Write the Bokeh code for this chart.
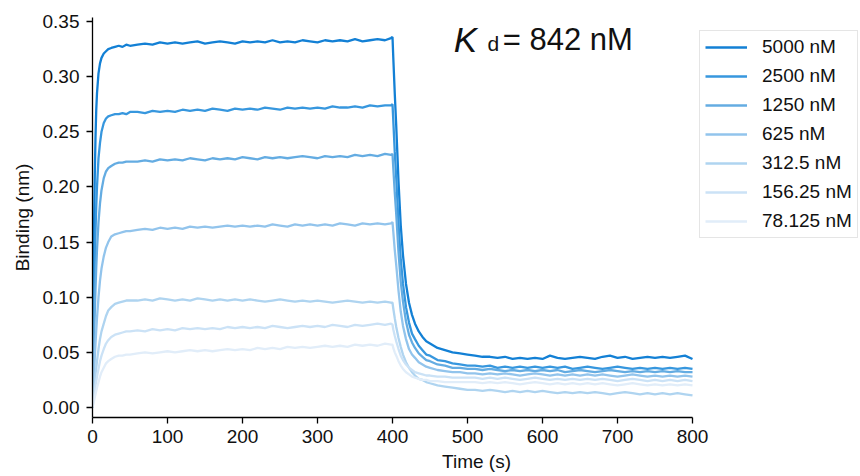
from bokeh.plotting import figure
from bokeh.models import (Range1d, FixedTicker, PrintfTickFormatter, Legend,
                          LegendItem, Label, ColumnDataSource)
from bokeh.embed import file_html
from bokeh.resources import INLINE

# ---- data ----
time_s = [0, 1, 2, 3, 4, 5, 6, 8, 10, 12, 15, 18, 21, 25, 30, 35, 40, 45, 50,
          60, 70, 80, 90, 100, 110, 120, 130, 140, 150, 160, 170, 180, 190, 200,
          210, 220, 230, 240, 250, 260, 270, 280, 290, 300, 310, 320, 330, 340,
          350, 360, 370, 380, 390, 398, 400,
          401, 403, 405, 408, 411, 414, 418, 422, 426, 430, 435, 440, 445, 450,
          460, 470, 480, 490, 500,
          510, 520, 530, 540, 550, 560, 570, 580, 590, 600, 610, 620, 630, 640,
          650, 660, 670, 680, 690, 700, 710, 720, 730, 740, 750, 760, 770, 780,
          790, 800]

conc_labels = ["5000 nM", "2500 nM", "1250 nM", "625 nM", "312.5 nM",
               "156.25 nM", "78.125 nM"]

b5000 = [0.000, 0.090, 0.160, 0.210, 0.245, 0.270, 0.285, 0.303, 0.312, 0.317, 0.321, 0.323, 0.325, 0.326, 0.327, 0.328, 0.327, 0.329, 0.328,
         0.329, 0.330, 0.329, 0.331, 0.330, 0.331, 0.330, 0.331, 0.332, 0.330, 0.331, 0.332, 0.331, 0.330, 0.332, 0.331, 0.332, 0.331, 0.333, 0.331,
         0.332, 0.331, 0.333, 0.332, 0.331, 0.333, 0.332, 0.333, 0.332, 0.334, 0.332, 0.333, 0.334, 0.333, 0.335, 0.336,
         0.318, 0.285, 0.255, 0.205, 0.165, 0.138, 0.112, 0.095, 0.084, 0.076, 0.069, 0.064, 0.060, 0.058, 0.054, 0.052, 0.050, 0.049, 0.048,
         0.047, 0.046, 0.046, 0.045, 0.046, 0.044, 0.045, 0.044, 0.045, 0.044, 0.047, 0.045, 0.044, 0.045, 0.046, 0.045, 0.044, 0.046, 0.047, 0.045,
         0.046, 0.044, 0.045, 0.046, 0.045, 0.046, 0.045, 0.046, 0.047, 0.044]

b2500 = [0.000, 0.050, 0.095, 0.130, 0.160, 0.183, 0.200, 0.226, 0.240, 0.250, 0.258, 0.262, 0.264, 0.265, 0.266, 0.266, 0.267, 0.266, 0.268,
         0.268, 0.267, 0.269, 0.268, 0.269, 0.268, 0.270, 0.269, 0.270, 0.269, 0.271, 0.270, 0.269, 0.271, 0.270, 0.271, 0.270, 0.272, 0.271, 0.270,
         0.272, 0.271, 0.272, 0.271, 0.272, 0.271, 0.273, 0.272, 0.272, 0.273, 0.272, 0.274, 0.273, 0.274, 0.274, 0.275,
         0.261, 0.232, 0.208, 0.167, 0.134, 0.112, 0.091, 0.077, 0.067, 0.062, 0.056, 0.052, 0.048, 0.047, 0.043, 0.042, 0.040, 0.039, 0.038,
         0.038, 0.037, 0.038, 0.036, 0.037, 0.036, 0.037, 0.036, 0.037, 0.036, 0.037, 0.036, 0.037, 0.035, 0.036, 0.037, 0.036, 0.035, 0.036, 0.037,
         0.036, 0.035, 0.036, 0.035, 0.036, 0.035, 0.036, 0.035, 0.036, 0.035]

b1250 = [0.000, 0.030, 0.060, 0.085, 0.108, 0.127, 0.143, 0.168, 0.185, 0.197, 0.208, 0.214, 0.217, 0.219, 0.221, 0.222, 0.222, 0.223, 0.223,
         0.223, 0.224, 0.223, 0.225, 0.224, 0.225, 0.224, 0.226, 0.225, 0.224, 0.226, 0.225, 0.226, 0.225, 0.227, 0.226, 0.225, 0.227, 0.226, 0.227,
         0.226, 0.227, 0.228, 0.227, 0.226, 0.228, 0.227, 0.228, 0.227, 0.229, 0.228, 0.229, 0.228, 0.230, 0.229, 0.230,
         0.218, 0.195, 0.175, 0.141, 0.114, 0.096, 0.078, 0.066, 0.059, 0.054, 0.049, 0.046, 0.043, 0.042, 0.039, 0.038, 0.036, 0.036, 0.035,
         0.035, 0.034, 0.035, 0.034, 0.033, 0.034, 0.033, 0.034, 0.033, 0.034, 0.033, 0.034, 0.032, 0.033, 0.034, 0.033, 0.032, 0.033, 0.034, 0.033,
         0.032, 0.033, 0.032, 0.033, 0.032, 0.033, 0.032, 0.033, 0.032, 0.032]

b625 = [0.000, 0.015, 0.030, 0.045, 0.058, 0.070, 0.081, 0.100, 0.115, 0.126, 0.137, 0.145, 0.150, 0.155, 0.157, 0.158, 0.159, 0.160, 0.160,
        0.161, 0.162, 0.161, 0.163, 0.162, 0.163, 0.162, 0.164, 0.163, 0.164, 0.163, 0.164, 0.165, 0.164, 0.165, 0.164, 0.165, 0.164, 0.166, 0.165,
        0.164, 0.166, 0.165, 0.166, 0.165, 0.166, 0.165, 0.167, 0.166, 0.165, 0.167, 0.166, 0.167, 0.166, 0.167, 0.168,
        0.160, 0.143, 0.129, 0.106, 0.087, 0.074, 0.062, 0.053, 0.048, 0.045, 0.041, 0.039, 0.037, 0.036, 0.034, 0.033, 0.032, 0.032, 0.031,
        0.031, 0.030, 0.031, 0.030, 0.031, 0.030, 0.029, 0.030, 0.031, 0.030, 0.029, 0.030, 0.029, 0.030, 0.029, 0.030, 0.029, 0.030, 0.029, 0.028,
        0.029, 0.030, 0.029, 0.028, 0.029, 0.028, 0.029, 0.028, 0.029, 0.028]

b312 = [0.000, 0.008, 0.016, 0.023, 0.030, 0.036, 0.042, 0.053, 0.062, 0.069, 0.076, 0.083, 0.088, 0.091, 0.094, 0.095, 0.096, 0.097, 0.097,
        0.097, 0.098, 0.097, 0.099, 0.098, 0.097, 0.098, 0.097, 0.099, 0.098, 0.097, 0.098, 0.097, 0.098, 0.097, 0.098, 0.097, 0.096, 0.097, 0.098,
        0.097, 0.096, 0.097, 0.096, 0.097, 0.096, 0.095, 0.096, 0.097, 0.096, 0.095, 0.096, 0.095, 0.096, 0.095, 0.095,
        0.090, 0.081, 0.073, 0.063, 0.055, 0.048, 0.041, 0.036, 0.032, 0.029, 0.026, 0.025, 0.023, 0.022, 0.020, 0.019, 0.018, 0.017, 0.016,
        0.016, 0.015, 0.016, 0.015, 0.014, 0.015, 0.014, 0.015, 0.014, 0.015, 0.014, 0.013, 0.014, 0.013, 0.014, 0.013, 0.014, 0.013, 0.012, 0.013,
        0.014, 0.013, 0.012, 0.013, 0.012, 0.013, 0.012, 0.013, 0.012, 0.011]

b156 = [0.000, 0.005, 0.010, 0.015, 0.020, 0.024, 0.028, 0.035, 0.042, 0.047, 0.053, 0.058, 0.061, 0.064, 0.066, 0.067, 0.068, 0.069, 0.069,
        0.070, 0.069, 0.071, 0.070, 0.071, 0.070, 0.072, 0.071, 0.072, 0.071, 0.072, 0.071, 0.073, 0.072, 0.073, 0.072, 0.073, 0.072, 0.074, 0.073,
        0.072, 0.073, 0.074, 0.073, 0.074, 0.073, 0.075, 0.074, 0.073, 0.075, 0.074, 0.075, 0.076, 0.075, 0.076, 0.075,
        0.071, 0.065, 0.060, 0.053, 0.047, 0.043, 0.039, 0.036, 0.034, 0.032, 0.031, 0.030, 0.029, 0.029, 0.028, 0.028, 0.027, 0.027, 0.027,
        0.027, 0.026, 0.027, 0.026, 0.027, 0.026, 0.025, 0.026, 0.027, 0.026, 0.025, 0.026, 0.025, 0.026, 0.025, 0.026, 0.025, 0.026, 0.025, 0.024,
        0.025, 0.026, 0.025, 0.024, 0.025, 0.024, 0.025, 0.024, 0.025, 0.024]

b78 = [0.000, 0.003, 0.006, 0.009, 0.012, 0.015, 0.018, 0.023, 0.028, 0.032, 0.036, 0.040, 0.042, 0.044, 0.046, 0.047, 0.047, 0.048, 0.048,
       0.049, 0.050, 0.049, 0.050, 0.051, 0.050, 0.051, 0.052, 0.051, 0.052, 0.051, 0.052, 0.053, 0.052, 0.053, 0.052, 0.054, 0.053, 0.054, 0.053,
       0.055, 0.054, 0.055, 0.054, 0.055, 0.056, 0.055, 0.056, 0.055, 0.057, 0.056, 0.057, 0.056, 0.058, 0.057, 0.057,
       0.054, 0.050, 0.047, 0.042, 0.038, 0.035, 0.032, 0.030, 0.028, 0.027, 0.026, 0.025, 0.025, 0.024, 0.024, 0.023, 0.023, 0.023, 0.023,
       0.023, 0.022, 0.023, 0.022, 0.023, 0.022, 0.021, 0.022, 0.023, 0.022, 0.021, 0.022, 0.021, 0.022, 0.021, 0.022, 0.021, 0.022, 0.021, 0.020,
       0.021, 0.022, 0.021, 0.020, 0.021, 0.020, 0.021, 0.020, 0.021, 0.020]

series = [b5000, b2500, b1250, b625, b312, b156, b78]
colors = ["#1380d5", "#3797de", "#64ace2", "#92c4ec", "#afd4f0", "#cbe2f6", "#e1edf9"]

x_ticks = [0, 100, 200, 300, 400, 500, 600, 700, 800]
y_ticks = [0.00, 0.05, 0.10, 0.15, 0.20, 0.25, 0.30, 0.35]

FONT = "Liberation Sans"

# The frame runs to the right edge so that the legend (inside the frame) is not clipped;
# the x axis itself is bounded to 0..800.
p = figure(width=860, height=476, output_backend="svg", toolbar_location=None,
           x_range=Range1d(0, 1024), y_range=Range1d(-0.00907, 0.35363),
           min_border_left=92, min_border_right=0, min_border_top=17,
           min_border_bottom=59, background_fill_color="white",
           border_fill_color="white")
p.outline_line_color = None
p.xgrid.visible = False
p.ygrid.visible = False

items = []
for lab, ys, col in zip(conc_labels, series, colors):
    src = ColumnDataSource(dict(t=time_s, b=ys))
    r = p.line("t", "b", source=src, line_color=col, line_width=2.3)
    items.append(LegendItem(label=lab, renderers=[r]))

for ax in (p.xaxis[0], p.yaxis[0]):
    ax.axis_line_color = "black"
    ax.axis_line_width = 1.3
    ax.major_tick_line_color = "black"
    ax.major_tick_line_width = 1.3
    ax.major_tick_out = 6
    ax.major_tick_in = 0
    ax.minor_tick_line_color = None
    ax.major_label_text_font = FONT
    ax.major_label_text_font_size = "19px"
    ax.major_label_text_color = "#111111"
    ax.axis_label_text_font = FONT
    ax.axis_label_text_font_size = "19px"
    ax.axis_label_text_font_style = "normal"
    ax.axis_label_text_color = "#111111"

p.xaxis.bounds = (0, 800)
p.xaxis.ticker = FixedTicker(ticks=x_ticks)
p.yaxis.ticker = FixedTicker(ticks=y_ticks)
p.yaxis.formatter = PrintfTickFormatter(format="%.2f")
p.xaxis.axis_label = "Time (s)"
p.yaxis.axis_label = "Binding (nm)"
p.xaxis.major_label_standoff = 6
p.yaxis.major_label_standoff = 7
p.xaxis.axis_label_standoff = 5
p.yaxis.axis_label_standoff = 7

legend = Legend(items=items, location=(607, 179))
legend.label_text_font = FONT
legend.label_text_font_size = "19px"
legend.label_text_color = "#111111"
legend.glyph_width = 42
legend.glyph_height = 20
legend.label_height = 20
legend.label_standoff = 15
legend.spacing = 7
legend.padding = 5
legend.margin = 0
legend.border_line_color = "#cccccc"
legend.border_line_width = 1
legend.background_fill_color = "white"
legend.background_fill_alpha = 1.0
p.add_layout(legend)

# Kd annotation
p.add_layout(Label(x=481.5, y=0.3335, text="K", text_font=FONT, text_font_size="35px",
                   text_font_style="italic", text_color="#111111",
                   text_baseline="alphabetic"))
p.add_layout(Label(x=526.7, y=0.3305, text="d", text_font=FONT, text_font_size="21px",
                   text_color="#111111", text_baseline="alphabetic"))
p.add_layout(Label(x=547, y=0.3335, text="= 842 nM", text_font=FONT, text_font_size="31px",
                   text_color="#111111", text_baseline="alphabetic"))

open("out.html", "w").write(file_html(p, INLINE))
